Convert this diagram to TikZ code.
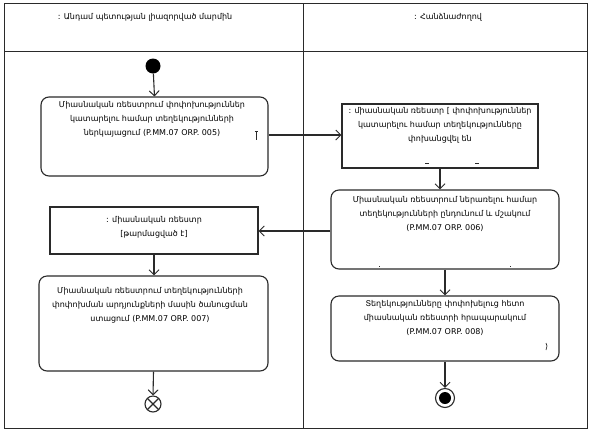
\documentclass[tikz,border=0pt]{standalone}
\usepackage{fontspec}
\setmainfont{DejaVu Sans}
\usetikzlibrary{arrows.meta}
\definecolor{ln}{HTML}{2A2A2A}
\tikzset{
  frame/.style={draw=ln, line width=0.9pt},
  rbox/.style={draw=ln, line width=1.1pt, rounded corners=8pt, inner sep=0pt},
  obox/.style={draw=ln, line width=1.1pt, inner sep=0pt},
  txt/.style={font=\fontsize{8}{14.3}\selectfont, align=center, inner sep=0pt, anchor=north, text=black},
  hdr/.style={font=\fontsize{8}{9}\selectfont, inner sep=0pt, text=black},
  flow/.style={draw=ln, line width=1.1pt, -{Straight Barb[length=5pt,width=10pt,line width=1pt]}},
  smark/.style={draw=ln, line width=0.7pt},
}
\begin{document}
\begin{tikzpicture}[x=1pt, y=-1pt]
\useasboundingbox (0,0) rectangle (591,432);
% frame
\draw[frame] (4,3) rectangle (587,428);
\draw[frame] (4,51) -- (587,51);
\draw[frame] (303,3) -- (303,428);
\node[hdr] (h1) at (145,17) {: Անդամ պետության լիազորված մարմին};
\node[hdr] (h2) at (448,17) {: Հանձնաժողով};
% start
\node[circle, fill=black, minimum size=15pt, inner sep=0pt] (start) at (153,66) {};
% boxes
\node[rbox, minimum width=227pt, minimum height=79pt] (b1) at (154.5,136.5) {};
\node[txt] (t1) at (152,101) {Միասնական ռեեստրում փոփոխություններ\\կատարելու համար տեղեկությունների\\ներկայացում (P.MM.07 ORP. 005)};
\node[obox, minimum width=196pt, minimum height=64pt] (b2) at (440,136) {};
\node[txt] (t2) at (440,107) {: միասնական ռեեստր [ փոփոխություններ\\կատարելու համար տեղեկությունները\\փոխանցվել են};
\node[rbox, minimum width=228pt, minimum height=79pt] (b3) at (445,229.5) {};
\node[txt] (t3) at (445,196) {Միասնական ռեեստրում ներառելու համար\\տեղեկությունների ընդունում և մշակում\\(P.MM.07 ORP. 006)};
\node[obox, minimum width=208pt, minimum height=47pt] (b4) at (154,230.5) {};
\node[txt] (t4) at (154,216) {: միասնական ռեեստր\\{}[թարմացված է]};
\node[rbox, minimum width=229pt, minimum height=95pt] (b5) at (153.5,323.5) {};
\node[txt] (t5) at (150,287) {Միասնական ռեեստրում տեղեկությունների\\փոփոխման արդյունքների մասին ծանուցման\\ստացում (P.MM.07 ORP. 007)};
\node[rbox, minimum width=228pt, minimum height=65pt] (b6) at (445,328.5) {};
\node[txt] (t6) at (445,300) {Տեղեկությունները փոփոխելուց հետո\\միասնական ռեեստրի հրապարակում\\(P.MM.07 ORP. 008)};
% final nodes
\node[circle, draw=ln, line width=1.1pt, minimum size=16pt, inner sep=0pt] (fe) at (153,404) {};
\draw[ln, line width=1.1pt] ([shift={(45:8pt)}]fe.center) -- ([shift={(225:8pt)}]fe.center)
  ([shift={(135:8pt)}]fe.center) -- ([shift={(315:8pt)}]fe.center);
\node[circle, draw=ln, line width=1.1pt, minimum size=19pt, inner sep=0pt] (ae) at (445,398) {};
\node[circle, fill=black, minimum size=12pt, inner sep=0pt] (aein) at (ae.center) {};
% small marks
\draw[smark] (256,131) -- (256,140);
\draw[smark] (254.5,131) -- (257.5,131);
\draw[smark] (546,343) -- (547,346) -- (546,350);
\draw[smark] (425,163) -- (429,163);
\draw[smark] (475,163) -- (479,163);
\draw[smark] (379,266) -- (380,266);
\draw[smark] (510,266) -- (511,266);
% flows
\draw[flow] (start) -- (b1.north);
\draw[flow] (b1.east |- 0,135) -- (b2.west |- 0,135);
\draw[flow] (b2.south) -- (b2.south |- b3.north);
\draw[flow] (b3.west |- 0,231) -- (b4.east |- 0,231);
\draw[flow] (b4.south) -- (b4.south |- b5.north);
\draw[flow] (b5.south) -- (fe.north);
\draw[flow] (b3.south) -- (b6.north);
\draw[flow] (b6.south) -- (ae.north);
\end{tikzpicture}
\end{document}
